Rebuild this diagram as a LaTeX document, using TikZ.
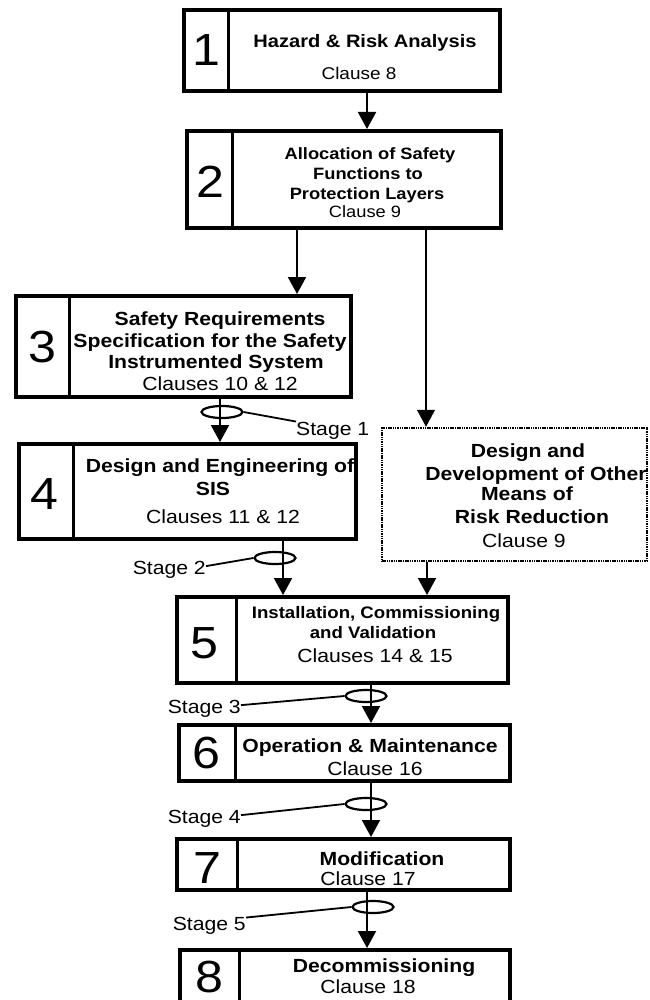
\documentclass[tikz,border=0pt]{standalone}
\usepackage{fontspec}
\setmainfont{Liberation Sans}[FakeStretch=1.115]
\usetikzlibrary{arrows.meta,shapes.geometric}

\begin{document}
\begin{tikzpicture}[x=1pt,y=-1pt,
  phase/.style={draw, line width=4pt, inner sep=0pt},
  otherbox/.style={draw, line width=2.5pt, inner sep=0pt, dash pattern=on 1.5pt off 0.8pt},
  divider/.style={line width=3pt},
  arr/.style={line width=2pt, -{Triangle[width=18pt,length=17pt]}},
  thinarr/.style={line width=1.3pt, -{Triangle[width=18pt,length=17pt]}},
  ring/.style={draw, ellipse, line width=2.2pt, inner sep=0pt, minimum width=41pt, minimum height=12pt},
  lead/.style={line width=1.8pt},
  tx/.style={anchor=base, inner sep=0pt, font=\fontsize{19}{22}\selectfont},
  tb/.style={anchor=base, inner sep=0pt, font=\fontsize{19}{22}\selectfont\bfseries},
  ts/.style={anchor=base, inner sep=0pt, font=\fontsize{16.4}{19}\selectfont\bfseries},
  tsr/.style={anchor=base, inner sep=0pt, font=\fontsize{16.4}{19}\selectfont},
  dig/.style={anchor=base, inner sep=0pt, font=\fontsize{45}{50}\selectfont},
  lbl/.style={inner sep=0pt, font=\fontsize{19}{22}\selectfont}]

\useasboundingbox (0,0) rectangle (649,1000);
\begin{scope}
\clip (0,0) rectangle (649,1000);

% ---- phase boxes ----
\node[phase, minimum width=316pt, minimum height=81pt] (b1) at (342,50.5) {};
\node[phase, minimum width=314pt, minimum height=97pt] (b2) at (344,179.5) {};
\node[phase, minimum width=335pt, minimum height=101pt] (b3) at (183.5,346.5) {};
\node[phase, minimum width=337pt, minimum height=95pt] (b4) at (187.5,491.5) {};
\node[otherbox, minimum width=265pt, minimum height=133pt] (bo) at (514.5,494.5) {};
\node[phase, minimum width=331pt, minimum height=86pt] (b5) at (342.5,640) {};
\node[phase, minimum width=331pt, minimum height=56pt] (b6) at (344.5,753) {};
\node[phase, minimum width=333pt, minimum height=51pt] (b7) at (343.5,864.5) {};
\node[phase, minimum width=330pt, minimum height=62pt] (b8) at (345,981) {};

% ---- number column dividers ----
\draw[divider] ([xshift=46pt]b1.north west) -- ([xshift=46pt]b1.south west);
\draw[divider] ([xshift=47pt]b2.north west) -- ([xshift=47pt]b2.south west);
\draw[divider] ([xshift=55pt]b3.north west) -- ([xshift=55pt]b3.south west);
\draw[divider] ([xshift=56pt]b4.north west) -- ([xshift=56pt]b4.south west);
\draw[divider] ([xshift=61pt]b5.north west) -- ([xshift=61pt]b5.south west);
\draw[divider] ([xshift=58pt]b6.north west) -- ([xshift=58pt]b6.south west);
\draw[divider] ([xshift=62pt]b7.north west) -- ([xshift=62pt]b7.south west);
\draw[divider] ([xshift=61pt]b8.north west) -- ([xshift=61pt]b8.south west);

% ---- phase numbers ----
\node[dig] (n1) at (206,66) {1};
\node[dig] (n2) at (210,198) {2};
\node[dig] (n3) at (42,362) {3};
\node[dig] (n4) at (44,509) {4};
\node[dig] (n5) at (204,658) {5};
\node[dig] (n6) at (206,768) {6};
\node[dig] (n7) at (207,883) {7};
\node[dig] (n8) at (209,992) {8};

% ---- box texts ----
\node[anchor=base, inner sep=0pt, font=\fontsize{18}{21}\selectfont\bfseries] (t1a) at (365,48) {Hazard \& Risk Analysis};
\node[anchor=base, inner sep=0pt, font=\fontsize{17}{20}\selectfont] (t1b) at (359,80) {Clause 8};

\node[ts] (t2a) at (370,160) {Allocation of Safety};
\node[ts] (t2b) at (368,180) {Functions to};
\node[ts] (t2c) at (367,200) {Protection Layers};
\node[tsr] (t2d) at (365,218) {Clause 9};

\node[tb] (t3a) at (220,325) {Safety Requirements};
\node[tb] (t3b) at (210,347) {Specification for the Safety};
\node[tb] (t3c) at (216,368) {Instrumented System};
\node[tx] (t3d) at (220,390) {Clauses 10 \& 12};

\node[tb] (t4a) at (220,472) {Design and Engineering of};
\node[tb] (t4b) at (213,495) {SIS};
\node[tx] (t4c) at (223,523) {Clauses 11 \& 12};

\node[tb] (toa) at (528,457) {Design and};
\node[tb] (tob) at (536,480) {Development of Other};
\node[tb] (toc) at (527,500) {Means of};
\node[tb] (tod) at (532,523) {Risk Reduction};
\node[tx] (toe) at (524,547) {Clause 9};

\node[anchor=base, inner sep=0pt, font=\fontsize{16.7}{19}\selectfont\bfseries] (t5a) at (376,618) {Installation, Commissioning};
\node[anchor=base, inner sep=0pt, font=\fontsize{16.7}{19}\selectfont\bfseries] (t5b) at (373,638) {and Validation};
\node[tx] (t5c) at (375,662) {Clauses 14 \& 15};

\node[tb] (t6a) at (370,752) {Operation \& Maintenance};
\node[tx] (t6b) at (375,775) {Clause 16};

\node[tb] (t7a) at (382,865) {Modification};
\node[tx] (t7b) at (368,885) {Clause 17};

\node[tb] (t8a) at (384,972) {Decommissioning};
\node[tx] (t8b) at (368,993) {Clause 18};

% ---- flow arrows ----
\coordinate (x12) at (367,0);
\coordinate (x23) at (297,0);
\coordinate (x2o) at (426,0);
\coordinate (x34) at (220,0);
\coordinate (x45) at (283,0);
\coordinate (xo5) at (427,0);
\coordinate (x56) at (371,0);
\coordinate (x67) at (371,0);
\coordinate (x78) at (367,0);
\draw[arr] (b1.south -| x12) -- (b2.north -| x12);
\draw[arr] (b2.south -| x23) -- (b3.north -| x23);
\draw[thinarr] (b2.south -| x2o) -- (bo.north -| x2o);
\draw[arr] (b3.south -| x34) -- (b4.north -| x34);
\draw[arr] (b4.south -| x45) -- (b5.north -| x45);
\draw[arr] (bo.south -| xo5) -- (b5.north -| xo5);
\draw[arr] (b5.south -| x56) -- (b6.north -| x56);
\draw[arr] (b6.south -| x67) -- (b7.north -| x67);
\draw[arr] (b7.south -| x78) -- (b8.north -| x78);

% ---- stage markers ----
\node[ring] (r1) at (222,412) {};
\node[ring] (r2) at (275,558) {};
\node[ring] (r3) at (366,696) {};
\node[ring] (r4) at (366,804) {};
\node[ring] (r5) at (373,907) {};

\node[lbl, anchor=base west] (s1) at (296,435) {Stage 1};
\node[lbl, anchor=base east] (s2) at (206,574) {Stage 2};
\node[lbl, anchor=base east] (s3) at (241,713) {Stage 3};
\node[lbl, anchor=base east] (s4) at (241,823) {Stage 4};
\node[lbl, anchor=base east] (s5) at (246,930) {Stage 5};

\draw[lead] (r1.east) -- (s1.north west);
\draw[lead] (r2.west) -- (s2.5);
\draw[lead] (r3.west) -- (s3.5);
\draw[lead] (r4.west) -- (s4.5);
\draw[lead] (r5.west) -- (s5.12);
\end{scope}
\end{tikzpicture}
\end{document}
